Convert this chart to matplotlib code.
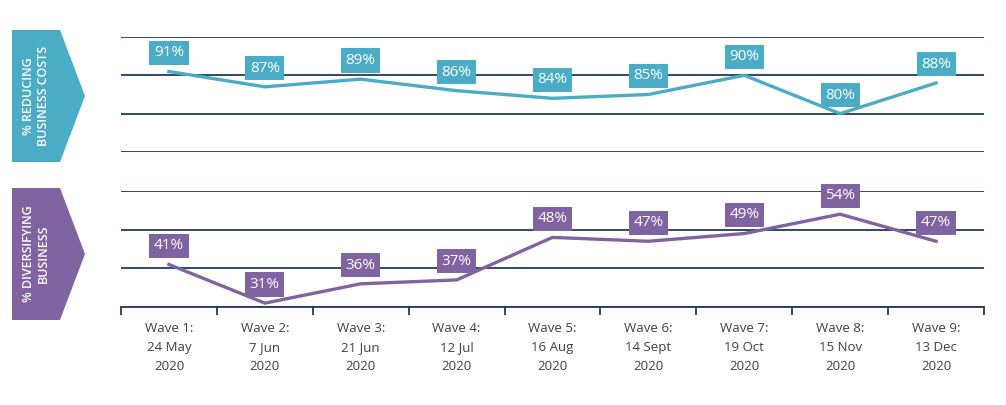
import numpy as np
import matplotlib
matplotlib.use("Agg")
import matplotlib.pyplot as plt
from matplotlib.patches import Polygon

# data
waves = ["Wave 1:\n24 May\n2020", "Wave 2:\n7 Jun\n2020", "Wave 3:\n21 Jun\n2020",
         "Wave 4:\n12 Jul\n2020", "Wave 5:\n16 Aug\n2020", "Wave 6:\n14 Sept\n2020",
         "Wave 7:\n19 Oct\n2020", "Wave 8:\n15 Nov\n2020", "Wave 9:\n13 Dec\n2020"]
reducing_costs = [91, 87, 89, 86, 84, 85, 90, 80, 88]
diversifying = [41, 31, 36, 37, 48, 47, 49, 54, 47]

teal = "#4BACC6"
purple = "#8064A2"
grid_col = "#1F3A5F"
txt_col = "#404040"

plt.rcParams['font.family'] = ['Open Sans', 'DejaVu Sans']

W, H = 1006, 405
fig = plt.figure(figsize=(W / 100, H / 100), dpi=100)

def frac(x0, y0, x1, y1):
    # pixel box (top-left origin) -> figure fraction rect
    return [x0 / W, 1 - y1 / H, (x1 - x0) / W, (y1 - y0) / H]

ax1 = fig.add_axes(frac(121, 37, 984, 152))
ax2 = fig.add_axes(frac(121, 191, 984, 307))

x = np.arange(len(waves))

def panel(ax, vals, color, lo, hi):
    ax.set_xlim(-0.5, len(waves) - 0.5)
    ax.set_ylim(lo, hi)
    ax.set_yticks(np.linspace(lo, hi, 4))
    ax.yaxis.grid(True, color=grid_col, linewidth=1.3)
    ax.set_axisbelow(True)
    for s in ax.spines.values():
        s.set_visible(False)
    ax.tick_params(axis="y", left=False, labelleft=False)
    ax.plot(x, vals, color=color, linewidth=2.4, solid_joinstyle="miter", zorder=3)
    for xi, v in zip(x, vals):
        ax.annotate(f"{v}%", (xi, v), xytext=(0, 8), textcoords="offset points",
                    ha="center", va="bottom", color="white", fontsize=11,
                    bbox=dict(boxstyle="square,pad=0.3", fc=color, ec="none"),
                    zorder=4, annotation_clip=False)

panel(ax1, reducing_costs, teal, 70, 100)
panel(ax2, diversifying, purple, 30, 60)

ax1.tick_params(axis="x", bottom=False, labelbottom=False)
ax2.spines["bottom"].set_visible(True)
ax2.spines["bottom"].set_color(grid_col)
ax2.spines["bottom"].set_linewidth(1.3)
ax2.set_xticks(x)
ax2.set_xticklabels(waves, fontsize=9.5, color=txt_col, linespacing=1.6)
ax2.set_xticks(np.arange(-0.5, len(waves)), minor=True)
ax2.tick_params(axis="x", which="major", length=0, pad=11)
ax2.tick_params(axis="x", which="minor", length=6, width=1.3, color=grid_col, direction="out")

# chevron side labels
def chevron(y0, y1, color, text):
    ym = (y0 + y1) / 2
    pts = [(12, y0), (60, y0), (85, ym), (60, y1), (12, y1)]
    poly = Polygon([(px / W, 1 - py / H) for px, py in pts], closed=True,
                   transform=fig.transFigure, fc=color, ec="none")
    fig.patches.append(poly)
    fig.text(36 / W, 1 - ym / H, text, rotation=90, ha="center", va="center",
             color="white", fontsize=9, fontweight="semibold", linespacing=1.25)

chevron(30, 162, teal, "% REDUCING\nBUSINESS COSTS")
chevron(188, 320, purple, "% DIVERSIFYING\nBUSINESS")

fig.savefig("out.png", dpi=100)
